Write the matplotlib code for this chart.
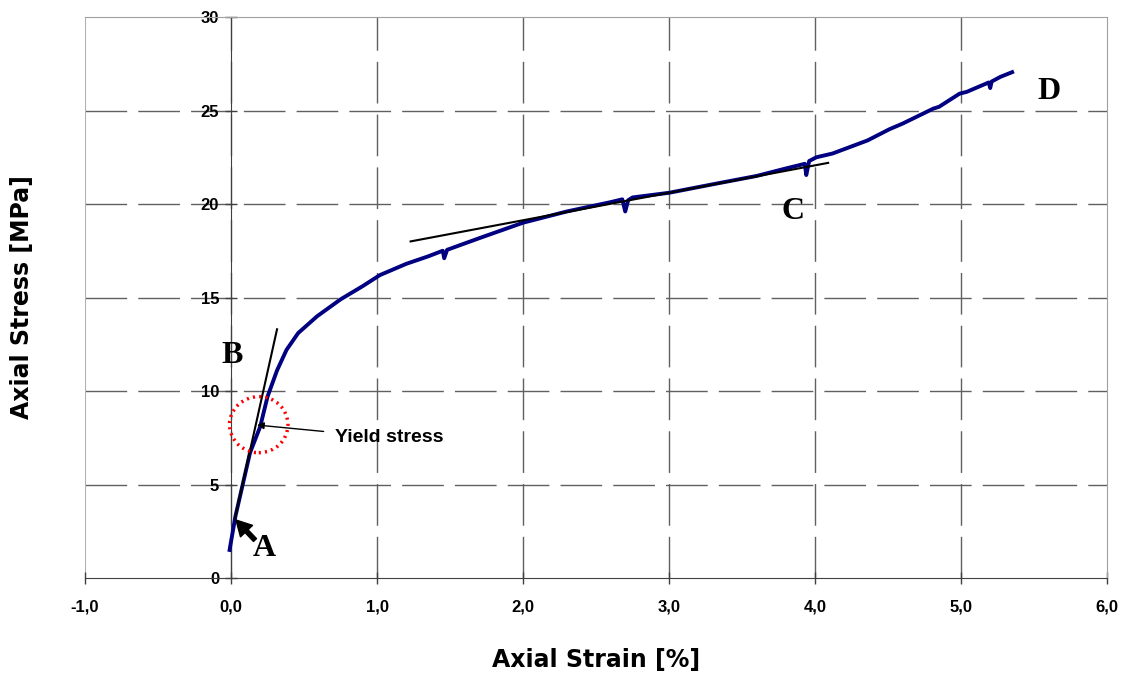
import numpy as np
import matplotlib
matplotlib.use('Agg')
import matplotlib.pyplot as plt
from matplotlib.patches import Ellipse
from matplotlib.ticker import FuncFormatter

strain = [-0.01, 0.03, 0.08, 0.13, 0.20, 0.25, 0.315, 0.38, 0.46, 0.59, 0.75, 0.90,
          1.02, 1.20, 1.35, 1.45, 1.46, 1.48, 1.71, 2.00, 2.30, 2.60, 2.68, 2.70,
          2.72, 2.75, 3.00, 3.33, 3.60, 3.80, 3.93, 3.94, 3.96, 4.01, 4.12, 4.36,
          4.51, 4.60, 4.81, 4.85, 4.99, 5.04, 5.19, 5.20, 5.21, 5.27, 5.35]
stress = [1.5, 3.3, 5.0, 6.7, 8.1, 9.7, 11.1, 12.2, 13.1, 14.0, 14.9, 15.6,
          16.2, 16.8, 17.2, 17.5, 17.1, 17.55, 18.2, 19.0, 19.6, 20.1, 20.25, 19.6,
          20.2, 20.35, 20.6, 21.1, 21.5, 21.9, 22.15, 21.55, 22.3, 22.5, 22.7, 23.4,
          24.0, 24.3, 25.1, 25.2, 25.9, 26.0, 26.5, 26.2, 26.55, 26.8, 27.05]

# fitted lines
tangent_x = [0.027, 0.315]
tangent_y = [3.2, 13.3]
slope_x = [1.23, 4.09]
slope_y = [18.0, 22.2]

x_ticks = [-1, 0, 1, 2, 3, 4, 5, 6]
y_ticks = [0, 5, 10, 15, 20, 25, 30]

fig = plt.figure(figsize=(11.25, 6.75), dpi=100)
ax = fig.add_axes([0.0756, 0.1437, 0.9084, 0.8311])
ax.set_xlim(-1, 6)
ax.set_ylim(0, 30)

# grid
for xv in x_ticks[1:-1]:
    ax.axvline(xv, color='#606060', lw=1, dashes=(30, 8), zorder=1)
for yv in y_ticks[1:-1]:
    ax.axhline(yv, color='#606060', lw=1, dashes=(30, 8), zorder=1)

# frame
for s in ['top', 'right']:
    ax.spines[s].set_color('#a0a0a0')
ax.spines['left'].set_position(('data', 0))
ax.spines['left'].set_color('#404040')
ax.spines['bottom'].set_color('#404040')
ax.axvline(-1, color='#b0b0b0', lw=1.5, zorder=1)

ax.set_xticks(x_ticks)
ax.set_yticks(y_ticks)
ax.xaxis.set_major_formatter(FuncFormatter(lambda v, p: f'{v:.1f}'.replace('.', ',')))
ax.tick_params(direction='inout', length=9, width=1, color='#404040')
for lab in ax.get_xticklabels() + ax.get_yticklabels():
    lab.set_fontfamily('Liberation Sans')
    lab.set_fontweight('bold')
    lab.set_fontsize(12)
ax.tick_params(axis='x', pad=11)
ax.tick_params(axis='y', pad=4)

# curve + lines
ax.plot(strain, stress, color='#000080', lw=2.8, zorder=3)
ax.plot(tangent_x, tangent_y, color='black', lw=1.5, zorder=4)
ax.plot(slope_x, slope_y, color='black', lw=1.5, zorder=4)

# yield circle
ax.add_patch(Ellipse((0.19, 8.2), 0.40, 3.0, fill=False, edgecolor='red',
                     lw=2.5, linestyle=(0, (0.6, 1.2)), zorder=5))
ax.annotate('Yield stress', xy=(0.178, 8.18), xytext=(0.71, 7.5),
            fontsize=14, fontweight='bold', family='Liberation Sans', va='center',
            arrowprops=dict(arrowstyle='-|>', color='black', lw=1, mutation_scale=10,
                            shrinkA=6, shrinkB=0))

# point A arrow
ax.annotate('', xy=(0.034, 3.1), xytext=(0.164, 2.03),
            arrowprops=dict(facecolor='black', edgecolor='black', width=3,
                            headwidth=12, headlength=11))

letter_font = dict(family='Liberation Serif', fontweight='bold', fontsize=23,
                   ha='center', va='center')
ax.text(0.226, 1.6, 'A', **letter_font)
ax.text(0.007, 11.9, 'B', **letter_font)
ax.text(3.85, 19.6, 'C', **letter_font)
ax.text(5.6, 26.0, 'D', **letter_font)

fig.text(0.53, 0.022, 'Axial Strain [%]', ha='center', va='center',
         fontsize=17, fontweight='bold', family='DejaVu Sans')
fig.text(0.02, 0.56, 'Axial Stress [MPa]', ha='center', va='center', rotation=90,
         fontsize=17, fontweight='bold', family='DejaVu Sans')

plt.savefig('out.png', dpi=100)
